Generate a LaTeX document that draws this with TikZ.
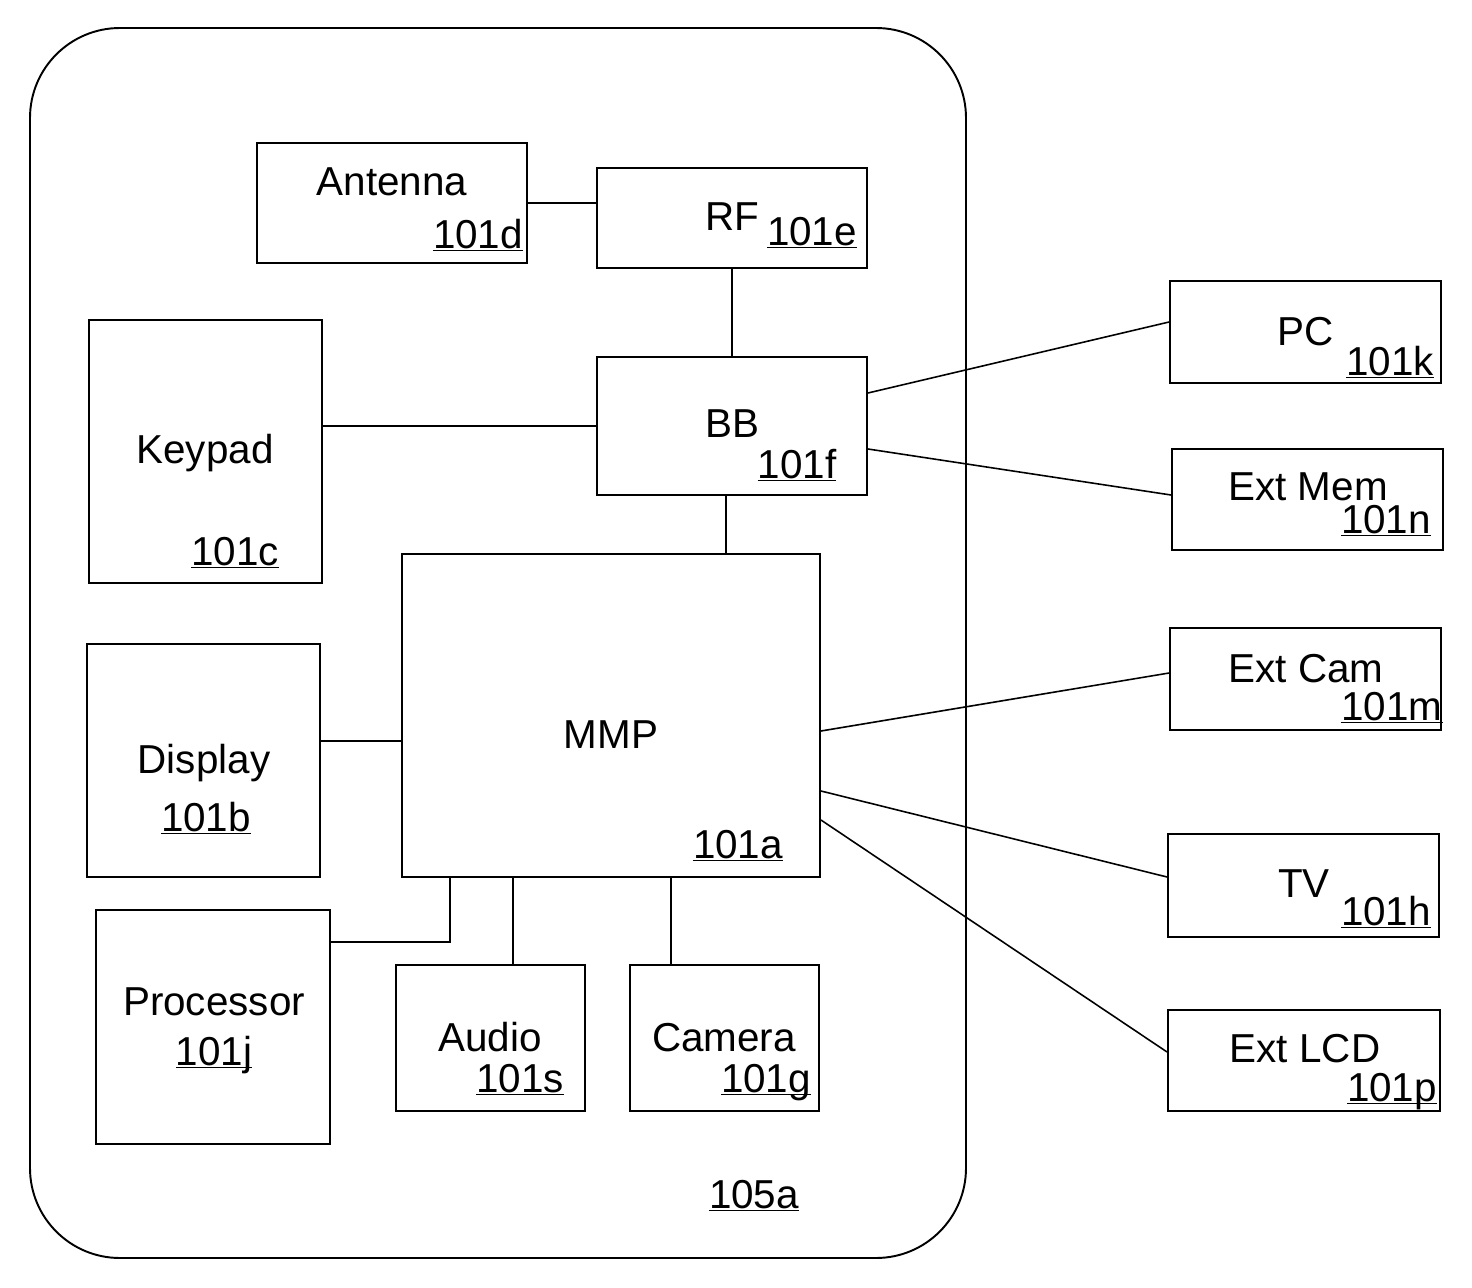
\documentclass[tikz,border=0pt]{standalone}
\usepackage{fontspec}
\setmainfont{Liberation Sans}

\newcommand{\ulnum}[1]{\underline{\smash{#1}}}

\tikzset{
	blk/.style={draw=black, line width=1.1pt, inner sep=0pt},
	lbl/.style={anchor=base, inner sep=0pt, font=\fontsize{23}{26}\selectfont},
	wire/.style={-, line width=0.9pt},
}

\begin{document}
\begin{tikzpicture}[x=0.02cm, y=-0.02cm]
	\useasboundingbox (0,0) rectangle (1472,1288);
	
	\draw[line width=1.1pt, rounded corners=1.8cm] (30,28) rectangle (966,1258);
	
	\node[blk, minimum width=5.4cm,  minimum height=2.4cm]  (ant)  at (392, 203)    {};
	\node[blk, minimum width=5.4cm,  minimum height=2.0cm]  (rf)   at (732, 218)    {};
	\node[blk, minimum width=5.4cm,  minimum height=2.76cm] (bb)   at (732, 426)    {};
	\node[blk, minimum width=4.66cm, minimum height=5.26cm] (kp)   at (205.5, 451.5) {};
	\node[blk, minimum width=8.36cm, minimum height=6.46cm] (mmp)  at (611, 715.5)  {};
	\node[blk, minimum width=4.66cm, minimum height=4.66cm] (disp) at (203.5, 760.5) {};
	\node[blk, minimum width=4.68cm, minimum height=4.68cm] (proc) at (213, 1027)   {};
	\node[blk, minimum width=3.78cm, minimum height=2.92cm] (aud)  at (490.5, 1038) {};
	\node[blk, minimum width=3.78cm, minimum height=2.92cm] (cam)  at (724.5, 1038) {};
	\node[blk, minimum width=5.42cm, minimum height=2.04cm] (pc)   at (1305.5, 332) {};
	\node[blk, minimum width=5.42cm, minimum height=2.02cm] (mem)  at (1307.5, 499.5) {};
	\node[blk, minimum width=5.42cm, minimum height=2.04cm] (xcam) at (1305.5, 679) {};
	\node[blk, minimum width=5.42cm, minimum height=2.06cm] (tv)   at (1303.5, 885.5) {};
	\node[blk, minimum width=5.44cm, minimum height=2.02cm] (lcd)  at (1304, 1060.5) {};
	
	\node[lbl] (ant-t)  at (392, 195)   {Antenna};
	\node[lbl] (ant-n)  at (478, 248)   {\ulnum{101d}};
	\node[lbl] (rf-t)   at (732, 230)   {RF};
	\node[lbl] (rf-n)   at (812, 245)   {\ulnum{101e}};
	\node[lbl] (bb-t)   at (732, 437)   {BB};
	\node[lbl] (bb-n)   at (797, 478)   {\ulnum{101f}};
	\node[lbl] (kp-t)   at (205, 463)   {Keypad};
	\node[lbl] (kp-n)   at (235, 565)   {\ulnum{101c}};
	\node[lbl] (mmp-t)  at (611, 748)   {MMP};
	\node[lbl] (mmp-n)  at (738, 858)   {\ulnum{101a}};
	\node[lbl] (disp-t) at (204, 773)   {Display};
	\node[lbl] (disp-n) at (206, 831)   {\ulnum{101b}};
	\node[lbl] (proc-t) at (214, 1015)  {Processor};
	\node[lbl] (proc-n) at (214, 1065)  {\ulnum{101j}};
	\node[lbl] (aud-t)  at (490, 1051)  {Audio};
	\node[lbl] (aud-n)  at (520, 1092)  {\ulnum{101s}};
	\node[lbl] (cam-t)  at (724, 1051)  {Camera};
	\node[lbl] (cam-n)  at (766, 1092)  {\ulnum{101g}};
	\node[lbl] (ph-n)   at (754, 1208)  {\ulnum{105a}};
	\node[lbl] (pc-t)   at (1306, 345)  {PC};
	\node[lbl] (pc-n)   at (1390, 375)  {\ulnum{101k}};
	\node[lbl] (mem-t)  at (1308, 500)  {Ext Mem};
	\node[lbl] (mem-n)  at (1386, 533)  {\ulnum{101n}};
	\node[lbl] (xcam-t) at (1306, 682)  {Ext Cam};
	\node[lbl] (xcam-n) at (1392, 720)  {\ulnum{101m}};
	\node[lbl] (tv-t)   at (1304, 897)  {TV};
	\node[lbl] (tv-n)   at (1386, 925)  {\ulnum{101h}};
	\node[lbl] (lcd-t)  at (1305, 1062) {Ext LCD};
	\node[lbl] (lcd-n)  at (1392, 1101) {\ulnum{101p}};
	
	\path[wire] (ant.east) edge (ant.east -| rf.west);
	\path[wire] (rf) edge (bb);
	\path[wire] (bb.west) edge (bb.west -| kp.east);
	\path[wire] ([xshift=-0.12cm]bb.south) edge ([xshift=-0.12cm]bb.south |- mmp.north);
	\path[wire] ([yshift=0.39cm]disp.east) edge ([yshift=0.39cm]disp.east -| mmp.west);
	\draw[wire] ([xshift=-3.22cm]mmp.south) |- ([yshift=1.7cm]proc.east);
	\path[wire] ([xshift=0.45cm]aud.north) edge ([xshift=0.45cm]aud.north |- mmp.south);
	\path[wire] ([xshift=-1.07cm]cam.north) edge ([xshift=-1.07cm]cam.north |- mmp.south);
	
	\path[wire] ([yshift=0.66cm]bb.east) edge ([yshift=0.2cm]pc.west);
	\path[wire] ([yshift=-0.46cm]bb.east) edge ([yshift=0.09cm]mem.west);
	\path[wire] ([yshift=-0.31cm]mmp.east) edge ([yshift=0.12cm]xcam.west);
	\path[wire] ([yshift=-1.51cm]mmp.east) edge ([yshift=0.17cm]tv.west);
	\path[wire] ([yshift=-2.09cm]mmp.east) edge ([yshift=0.17cm]lcd.west);

\end{tikzpicture}
\end{document}
